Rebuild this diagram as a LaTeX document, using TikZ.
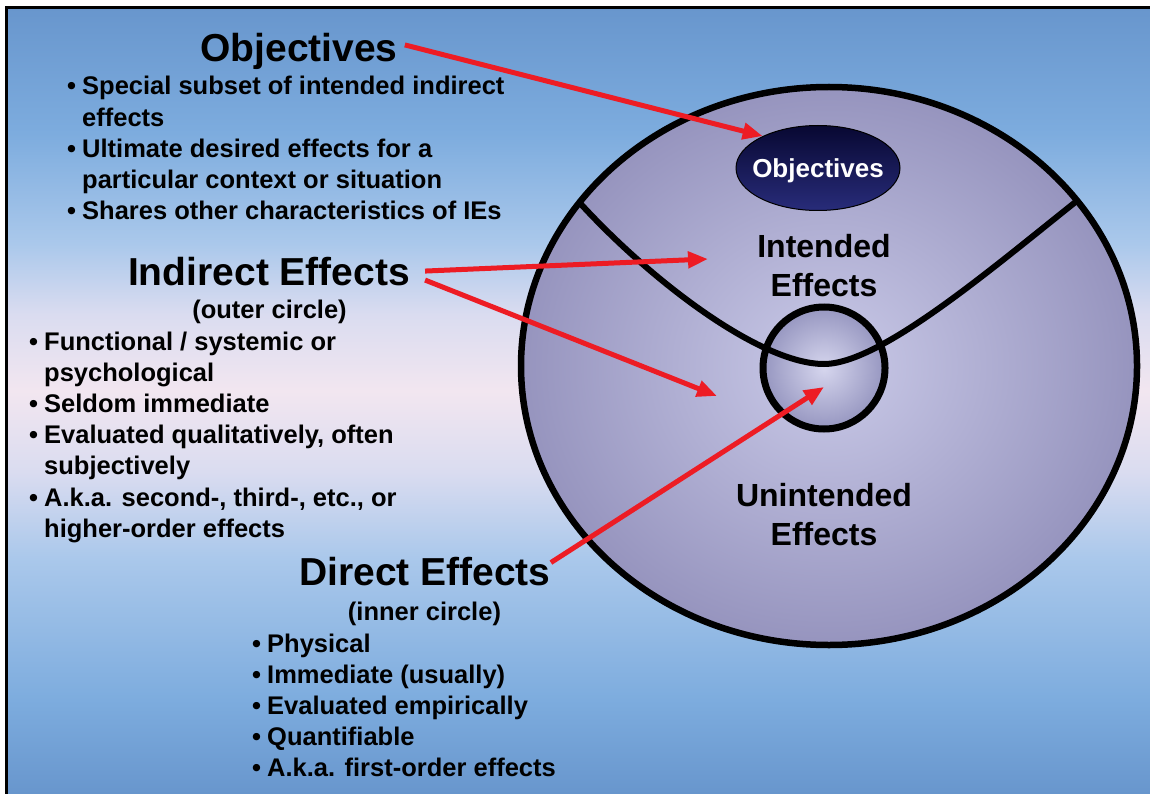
\documentclass[tikz,border=0pt]{standalone}
\usepackage{fontspec}
\setmainfont{Liberation Sans}
\usetikzlibrary{arrows.meta,shapes.geometric}
\definecolor{bgblue}{RGB}{104,150,205}
\definecolor{bgcA}{RGB}{125,172,222}
\definecolor{bgcB}{RGB}{170,200,235}
\definecolor{bgcC}{RGB}{218,220,240}
\definecolor{bgpink}{RGB}{242,230,240}
\definecolor{arrred}{RGB}{237,28,36}
\definecolor{bigin}{RGB}{202,202,232}
\definecolor{bigout}{RGB}{150,148,190}
\definecolor{smin}{RGB}{214,214,238}
\definecolor{smout}{RGB}{150,150,192}
\definecolor{elltop}{RGB}{8,8,50}
\definecolor{ellbot}{RGB}{40,44,122}
\pgfdeclareverticalshading{bgshade}{100bp}{color(0bp)=(bgblue); color(25bp)=(bgblue); color(31bp)=(bgcA); color(40bp)=(bgcB); color(45.5bp)=(bgcC); color(50.6bp)=(bgpink); color(55.5bp)=(bgcC); color(60bp)=(bgcB); color(67bp)=(bgcA); color(75bp)=(bgblue); color(100bp)=(bgblue)}
\newcommand{\myblt}{\makebox[15pt][l]{\textbullet}}
\newcommand{\mynbl}{\hspace*{15pt}}
\tikzset{
  redarrow/.style={draw=arrred, line width=5pt, -{Triangle[length=20pt,width=16pt]}},
  bodytext/.style={font=\bfseries\fontsize{25.5}{31.2}\selectfont, inner sep=0pt},
  titletext/.style={font=\bfseries\fontsize{39}{45}\selectfont, inner sep=0pt},
  difftext/.style={font=\bfseries\fontsize{32}{39}\selectfont, align=center, inner sep=0pt},
  outerring/.style={ellipse, draw=black, line width=6.5pt, inner color=bigin, outer color=bigout, minimum width=616pt, minimum height=558pt, inner sep=0pt},
  innerring/.style={circle, draw=black, line width=7pt, inner color=smin, outer color=smout, minimum size=122pt, inner sep=0pt},
  objell/.style={ellipse, draw=black, line width=1pt, top color=elltop, bottom color=ellbot, minimum width=164pt, minimum height=85pt, inner sep=0pt},
  divider/.style={draw=black, line width=6pt}
}
\begin{document}
\begin{tikzpicture}[x=1pt,y=-1pt]
\useasboundingbox (0,0) rectangle (1150,794);
\fill[white] (0,0) rectangle (1150,794);
\shade[shading=bgshade] (6.5,7.5) rectangle (1150,794);
\draw[line width=3pt] (6.5,794) -- (6.5,7.5) -- (1150,7.5);

% diagram
\node[outerring] (outer) at (829,366) {};
\node[innerring] (inner) at (824,368) {};
\coordinate (cl) at (579,202);
\coordinate (cb) at (824,364);
\coordinate (cr) at (1078,200);
\draw[divider] (cl) .. controls (650,280) and (760,364) .. (cb) .. controls (880,364) and (990,270) .. (cr);
\node[objell] (objE) at (818,168) {};
\node[font=\bfseries\fontsize{26}{30}\selectfont, text=white, inner sep=0pt, anchor=base] (objL) at (818,178) {Objectives};
\node[difftext, anchor=base] (intL) at (824,296) {Intended\\Effects};
\node[difftext, anchor=base] (unL) at (824,545) {Unintended\\Effects};

% left texts
\node[titletext, anchor=base] (objT) at (299,62) {Objectives};
\node[bodytext, anchor=base west] (objList) at (67,95) {\begin{tabular}[t]{@{}l@{}}
\myblt Special subset of intended indirect\\
\mynbl effects\\
\myblt Ultimate desired effects for a\\
\mynbl particular context or situation\\
\myblt Shares other characteristics of IEs
\end{tabular}};

\node[titletext, anchor=base] (indT) at (269,285) {Indirect Effects};
\node[bodytext, anchor=base] (indSub) at (269.5,318) {(outer circle)};
\node[bodytext, anchor=base west] (indList) at (29,350) {\begin{tabular}[t]{@{}l@{}}
\myblt Functional / systemic or\\
\mynbl psychological\\
\myblt Seldom immediate\\
\myblt Evaluated qualitatively, often\\
\mynbl subjectively\\
\myblt A.k.a. second-, third-, etc., or\\
\mynbl higher-order effects
\end{tabular}};

\node[titletext, anchor=base] (dirT) at (425,585) {Direct Effects};
\node[bodytext, anchor=base] (dirSub) at (424.5,620) {(inner circle)};
\node[bodytext, anchor=base west] (dirList) at (252,652) {\begin{tabular}[t]{@{}l@{}}
\myblt Physical\\
\myblt Immediate (usually)\\
\myblt Evaluated empirically\\
\myblt Quantifiable\\
\myblt A.k.a. first-order effects
\end{tabular}};

% arrows
\coordinate (intTip) at (708,259);
\coordinate (unTip) at (717,396);
\coordinate (dirTip) at (824,387);
\draw[redarrow] ([shift={(7,-7)}]objT.east) -- (objE.150);
\draw[redarrow] ([shift={(15,0)}]indT.east) -- (intTip);
\draw[redarrow] ([shift={(15,9)}]indT.east) -- (unTip);
\draw[redarrow] ([shift={(0,6)}]dirT.north east) -- (dirTip);
\end{tikzpicture}
\end{document}
